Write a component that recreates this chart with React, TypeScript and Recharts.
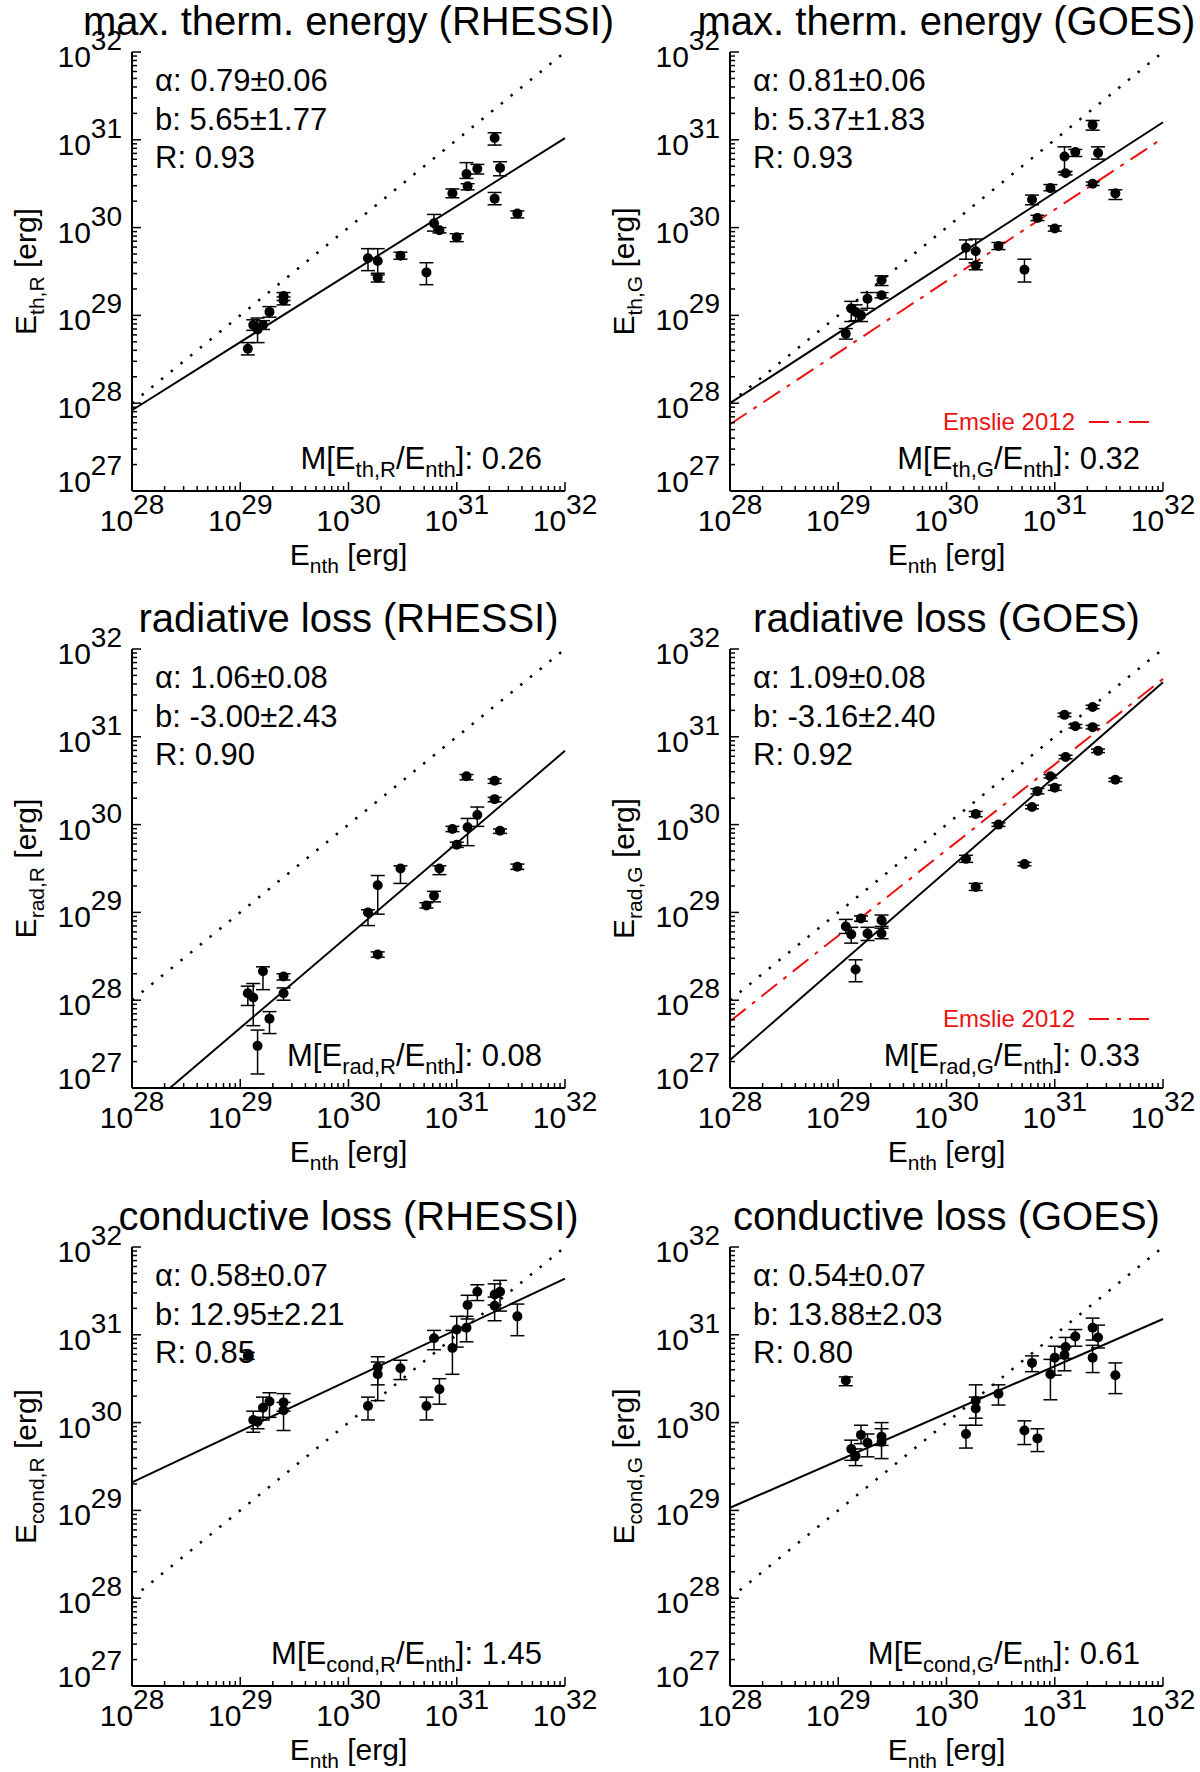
import React from 'react'
import { ComposedChart, Scatter, ErrorBar, XAxis, YAxis, ReferenceLine } from 'recharts'

// ─── Data (log10 of energy in erg) ────────────────────────────────────────────

// non-thermal energy of each event, shared by all six panels
const ENTH = [
  29.07, 29.12, 29.16, 29.21, 29.27, 29.4, 29.4, 30.18, 30.27, 30.27, 30.48, 30.72,
  30.79, 30.84, 30.96, 31.0, 31.09, 31.1, 31.19, 31.35, 31.35, 31.4, 31.56,
]

const TH_R = [
  28.62, 28.89, 28.84, 28.89, 29.04, 29.22, 29.17, 29.65, 29.62, 29.43, 29.68, 29.49,
  30.05, 29.97, 30.39, 29.89, 30.61, 30.47, 30.67, 31.02, 30.33, 30.68, 30.16,
]
const TH_R_ERR = [
  [0.07, 0.07], [0.06, 0.06], [0.15, 0.13], [0.05, 0.05], [0.06, 0.06], [0.05, 0.04],
  [0.05, 0.04], [0.14, 0.11], [0.14, 0.14], [0.05, 0.03], [0.04, 0.04], [0.14, 0.11],
  [0.09, 0.1], [0.03, 0.03], [0.05, 0.05], [0.05, 0.04], [0.05, 0.13], [0.04, 0.03],
  [0.06, 0.05], [0.08, 0.06], [0.07, 0.07], [0.09, 0.07], [0.05, 0.03],
]

const TH_G = [
  28.79, 29.08, 29.04, 29.0, 29.19, 29.4, 29.23, 29.77, 29.73, 29.57, 29.79, 29.52,
  30.32, 30.11, 30.45, 29.99, 30.81, 30.62, 30.86, 31.17, 30.5, 30.85, 30.39,
]
const TH_G_ERR = [
  [0.06, 0.06], [0.15, 0.08], [0.1, 0.08], [0.07, 0.06], [0.11, 0.07], [0.06, 0.05],
  [0.03, 0.03], [0.13, 0.09], [0.13, 0.14], [0.05, 0.03], [0.04, 0.04], [0.14, 0.12],
  [0.06, 0.05], [0.03, 0.03], [0.03, 0.04], [0.03, 0.03], [0.18, 0.11], [0.02, 0.02],
  [0.05, 0.03], [0.06, 0.05], [0.02, 0.02], [0.07, 0.07], [0.07, 0.04],
]

const RAD_R = [
  28.08, 28.03, 27.48, 28.33, 27.79, 28.27, 28.08, 29.0, 29.31, 28.52, 29.5, 29.08,
  29.19, 29.5, 29.95, 29.77, 30.55, 29.97, 30.11, 30.5, 30.29, 29.93, 29.52,
]
const RAD_R_ERR = [
  [0.14, 0.08], [0.32, 0.16], [0.32, 0.18], [0.21, 0.05], [0.17, 0.08], [0.04, 0.03],
  [0.08, 0.06], [0.15, 0.03], [0.33, 0.11], [0.03, 0.03], [0.17, 0.03], [0.03, 0.03],
  [0.07, 0.05], [0.07, 0.03], [0.03, 0.03], [0.03, 0.03], [0.04, 0.02], [0.21, 0.1],
  [0.13, 0.09], [0.03, 0.02], [0.03, 0.02], [0.03, 0.02], [0.03, 0.03],
]

const RAD_G = [
  28.84, 28.75, 28.35, 28.93, 28.76, 28.91, 28.76, 29.61, 30.12, 29.29, 30.0, 29.55,
  30.2, 30.38, 30.55, 30.42, 31.25, 30.77, 31.12, 31.34, 31.11, 30.84, 30.51,
]
const RAD_G_ERR = [
  [0.08, 0.08], [0.1, 0.08], [0.14, 0.11], [0.03, 0.03], [0.08, 0.07], [0.07, 0.06],
  [0.06, 0.06], [0.04, 0.04], [0.03, 0.03], [0.04, 0.04], [0.02, 0.02], [0.02, 0.02],
  [0.02, 0.02], [0.03, 0.03], [0.02, 0.02], [0.03, 0.03], [0.02, 0.02], [0.02, 0.02],
  [0.02, 0.02], [0.02, 0.02], [0.02, 0.02], [0.02, 0.02], [0.02, 0.02],
]

const COND_R = [
  30.76, 30.03, 30.01, 30.17, 30.24, 30.23, 30.14, 30.19, 30.63, 30.55, 30.62, 30.19,
  30.96, 30.38, 30.85, 31.06, 31.08, 31.34, 31.49, 31.46, 31.33, 31.49, 31.21,
]
const COND_R_ERR = [
  [0.04, 0.04], [0.14, 0.1], [0.08, 0.05], [0.14, 0.12], [0.18, 0.1], [0.1, 0.1],
  [0.23, 0.09], [0.16, 0.1], [0.2, 0.12], [0.3, 0.14], [0.13, 0.09], [0.16, 0.1],
  [0.13, 0.09], [0.17, 0.12], [0.3, 0.2], [0.2, 0.15], [0.16, 0.13], [0.16, 0.11],
  [0.1, 0.08], [0.12, 0.12], [0.17, 0.1], [0.22, 0.13], [0.22, 0.14],
]

const COND_G = [
  30.48, 29.7, 29.62, 29.86, 29.77, 29.84, 29.78, 29.87, 30.25, 30.16, 30.33, 29.91,
  30.68, 29.82, 30.55, 30.74, 30.77, 30.86, 30.98, 31.08, 30.74, 30.97, 30.54,
]
const COND_G_ERR = [
  [0.06, 0.04], [0.13, 0.1], [0.11, 0.08], [0.1, 0.11], [0.16, 0.1], [0.1, 0.16],
  [0.19, 0.15], [0.16, 0.1], [0.2, 0.18], [0.19, 0.13], [0.13, 0.1], [0.16, 0.11],
  [0.1, 0.08], [0.15, 0.11], [0.29, 0.17], [0.2, 0.13], [0.18, 0.09], [0.13, 0.11],
  [0.11, 0.08], [0.14, 0.11], [0.17, 0.14], [0.12, 0.14], [0.21, 0.14],
]

// line end points [x, y]
const ONE_TO_ONE = [[28, 28], [32, 32]]
const FIT_TH_R = [[28, 27.92], [32, 31.02]]
const FIT_TH_G = [[28, 28.0], [32, 31.2]]
const FIT_RAD_R = [[28.35, 27], [32, 30.84]]
const FIT_RAD_G = [[28, 27.32], [32, 31.62]]
const FIT_COND_R = [[28, 29.32], [32, 31.64]]
const FIT_COND_G = [[28, 29.03], [32, 31.18]]
const EMSLIE_TH = [[28, 27.76], [32, 31.02]]
const EMSLIE_RAD = [[28, 27.76], [32, 31.66]]

const X_DOMAIN = [28, 32]
const Y_DOMAIN = [27, 32]

// ─── Layout / style ───────────────────────────────────────────────────────────

const FONT = '"Liberation Sans", Arial, Helvetica, sans-serif'
const RED = '#ee1111'
const DASH_DOT = '20 8 4 8'
const PLOT_W = 433
const PLOT_H = 439
const COL_X = [132, 730]
const ROW_Y = [52, 649, 1247]

function logTicks(lo: number, hi: number) {
  const t: number[] = []
  for (let d = lo; d < hi; d++) {
    t.push(d)
    for (let k = 2; k <= 9; k++) t.push(d + Math.log10(k))
  }
  t.push(hi)
  return t
}
const X_TICKS = logTicks(X_DOMAIN[0], X_DOMAIN[1])
const Y_TICKS = logTicks(Y_DOMAIN[0], Y_DOMAIN[1])

interface PanelCfg {
  title: string
  sub: string
  stats: [string, string, string]
  ratio: string
  y: number[]
  err: number[][]
  fit: number[][]
  emslie?: number[][]
}

const PANELS: PanelCfg[] = [
  { title: 'max. therm. energy (RHESSI)', sub: 'th,R', stats: ['0.79±0.06', '5.65±1.77', '0.93'], ratio: '0.26', y: TH_R, err: TH_R_ERR, fit: FIT_TH_R },
  { title: 'max. therm. energy (GOES)', sub: 'th,G', stats: ['0.81±0.06', '5.37±1.83', '0.93'], ratio: '0.32', y: TH_G, err: TH_G_ERR, fit: FIT_TH_G, emslie: EMSLIE_TH },
  { title: 'radiative loss (RHESSI)', sub: 'rad,R', stats: ['1.06±0.08', '-3.00±2.43', '0.90'], ratio: '0.08', y: RAD_R, err: RAD_R_ERR, fit: FIT_RAD_R },
  { title: 'radiative loss (GOES)', sub: 'rad,G', stats: ['1.09±0.08', '-3.16±2.40', '0.92'], ratio: '0.33', y: RAD_G, err: RAD_G_ERR, fit: FIT_RAD_G, emslie: EMSLIE_RAD },
  { title: 'conductive loss (RHESSI)', sub: 'cond,R', stats: ['0.58±0.07', '12.95±2.21', '0.85'], ratio: '1.45', y: COND_R, err: COND_R_ERR, fit: FIT_COND_R },
  { title: 'conductive loss (GOES)', sub: 'cond,G', stats: ['0.54±0.07', '13.88±2.03', '0.80'], ratio: '0.61', y: COND_G, err: COND_G_ERR, fit: FIT_COND_G },
]

// ─── Axis ticks (inward, log minor ticks, 10^n labels) ───────────────────────

function Pow({ n }: { n: number }) {
  return (
    <>
      10<tspan dy={-17} fontSize={28}>{n}</tspan>
    </>
  )
}

function LogTick(props: any) {
  const { x, y, payload, side } = props
  const v = payload.value
  const major = Math.abs(v - Math.round(v)) < 1e-6
  const len = major ? 9 : 5
  let line = null
  if (side === 'bottom') line = <line x1={x} y1={y} x2={x} y2={y - len} />
  if (side === 'top') line = <line x1={x} y1={y} x2={x} y2={y + len} />
  if (side === 'left') line = <line x1={x} y1={y} x2={x + len} y2={y} />
  if (side === 'right') line = <line x1={x} y1={y} x2={x - len} y2={y} />
  let label = null
  if (major && side === 'bottom') {
    label = (
      <text x={x} y={y + 40} textAnchor="middle" fontSize={30} fontFamily={FONT} fill="#000">
        <Pow n={Math.round(v)} />
      </text>
    )
  }
  if (major && side === 'left') {
    const shift = Math.round(v) === Y_DOMAIN[0] ? -14 : 0
    label = (
      <text x={x - 10} y={y + 15 + shift} textAnchor="end" fontSize={30} fontFamily={FONT} fill="#000">
        <Pow n={Math.round(v)} />
      </text>
    )
  }
  return (
    <g>
      <g stroke="#000" strokeWidth={1.5}>{line}</g>
      {label}
    </g>
  )
}

function Dot(props: any) {
  const { cx, cy } = props
  return <circle cx={cx} cy={cy} r={5} fill="#000" />
}

const AXIS_LINE = { stroke: '#000', strokeWidth: 2 }

function seg(p: number[][]) {
  return [{ x: p[0][0], y: p[0][1] }, { x: p[1][0], y: p[1][1] }]
}

// ─── One panel ────────────────────────────────────────────────────────────────

function Panel({ cfg, col, row }: { cfg: PanelCfg; col: number; row: number }) {
  const data = ENTH.map((x, i) => ({ x, y: cfg.y[i], err: cfg.err[i] }))
  const left = COL_X[col] - 132
  const top = ROW_Y[row] - 52
  return (
    <div style={{ position: 'absolute', left, top }}>
      <ComposedChart width={600} height={598} margin={{ top: 52, right: 35, bottom: 47, left: 32 }}>
        <XAxis dataKey="x" type="number" domain={X_DOMAIN} ticks={X_TICKS} interval={0} allowDataOverflow
          height={60} tickSize={0} tickMargin={0} tickLine={false} axisLine={AXIS_LINE}
          tick={<LogTick side="bottom" />} />
        <XAxis xAxisId="top" orientation="top" type="number" domain={X_DOMAIN} ticks={X_TICKS} interval={0}
          allowDataOverflow height={0} tickSize={0} tickMargin={0} tickLine={false} axisLine={AXIS_LINE}
          tick={<LogTick side="top" />} />
        <YAxis dataKey="y" type="number" domain={Y_DOMAIN} ticks={Y_TICKS} interval={0} allowDataOverflow
          width={100} tickSize={0} tickMargin={0} tickLine={false} axisLine={AXIS_LINE}
          tick={<LogTick side="left" />} />
        <YAxis yAxisId="right" orientation="right" type="number" domain={Y_DOMAIN} ticks={Y_TICKS} interval={0}
          allowDataOverflow width={0} tickSize={0} tickMargin={0} tickLine={false} axisLine={AXIS_LINE}
          tick={<LogTick side="right" />} />
        <ReferenceLine segment={seg(ONE_TO_ONE)} stroke="#000" strokeWidth={2.5} strokeDasharray="2.5 10" ifOverflow="visible" />
        {cfg.emslie && (
          <ReferenceLine segment={seg(cfg.emslie)} stroke={RED} strokeWidth={2} strokeDasharray={DASH_DOT} ifOverflow="visible" />
        )}
        <ReferenceLine segment={seg(cfg.fit)} stroke="#000" strokeWidth={2} ifOverflow="visible" />
        <Scatter data={data} shape={<Dot />} isAnimationActive={false}>
          <ErrorBar dataKey="err" direction="y" width={7} stroke="#000" strokeWidth={1.5} />
        </Scatter>
      </ComposedChart>
    </div>
  )
}

// ─── Panel texts ──────────────────────────────────────────────────────────────

function PanelText({ cfg, col, row }: { cfg: PanelCfg; col: number; row: number }) {
  const px = COL_X[col]
  const py = ROW_Y[row]
  const cx = px + PLOT_W / 2
  const right = px + PLOT_W
  const bottom = py + PLOT_H
  return (
    <g fontFamily={FONT} fill="#000">
      <text x={cx} y={py - 17} textAnchor="middle" fontSize={40}>{cfg.title}</text>
      <text x={px + 23} y={py + 39} fontSize={31}>α: {cfg.stats[0]}</text>
      <text x={px + 23} y={py + 78} fontSize={31}>b: {cfg.stats[1]}</text>
      <text x={px + 23} y={py + 116} fontSize={31}>R: {cfg.stats[2]}</text>
      <text x={right - 23} y={bottom - 22} textAnchor="end" fontSize={31}>
        M[E<tspan dy={8} fontSize={22}>{cfg.sub}</tspan>
        <tspan dy={-8}>/E</tspan>
        <tspan dy={8} fontSize={22}>nth</tspan>
        <tspan dy={-8}>{']: ' + cfg.ratio}</tspan>
      </text>
      {cfg.emslie && (
        <g>
          <text x={right - 88} y={bottom - 61} textAnchor="end" fontSize={24} fill={RED}>Emslie 2012</text>
          <line x1={right - 74} y1={bottom - 69} x2={right - 11} y2={bottom - 69} stroke={RED} strokeWidth={2} strokeDasharray={DASH_DOT} />
        </g>
      )}
      <text transform={`translate(${px - 96},${py + PLOT_H / 2}) rotate(-90)`} textAnchor="middle" fontSize={30}>
        E<tspan dy={8} fontSize={21}>{cfg.sub}</tspan>
        <tspan dy={-8}>{' [erg]'}</tspan>
      </text>
      <text x={cx} y={bottom + 74} textAnchor="middle" fontSize={30}>
        E<tspan dy={8} fontSize={21}>nth</tspan>
        <tspan dy={-8}>{' [erg]'}</tspan>
      </text>
    </g>
  )
}

// ─── Component ────────────────────────────────────────────────────────────────

export default function App() {
  return (
    <div style={{ position: 'absolute', left: 0, top: 0, width: 1200, height: 1772, background: '#fff', overflow: 'hidden' }}>
      {PANELS.map((cfg, i) => (
        <Panel key={i} cfg={cfg} col={i % 2} row={Math.floor(i / 2)} />
      ))}
      <svg width={1200} height={1772} style={{ position: 'absolute', left: 0, top: 0, pointerEvents: 'none' }}>
        {PANELS.map((cfg, i) => (
          <PanelText key={i} cfg={cfg} col={i % 2} row={Math.floor(i / 2)} />
        ))}
      </svg>
    </div>
  )
}
